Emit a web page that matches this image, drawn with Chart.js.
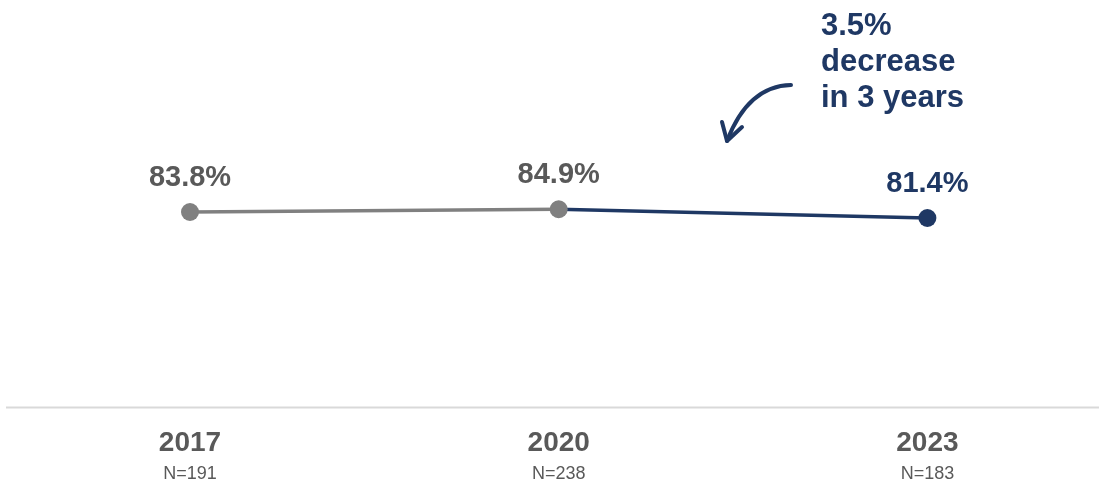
<!DOCTYPE html>
<html>
<head>
  <title>Decrease over 3 years</title>
  <script src="https://cdn.jsdelivr.net/npm/chart.js"></script>
  <style>
    body { margin: 0; background: #fff; }
    #wrap { width: 1099px; height: 485px; position: relative; }
  </style>
</head>
<body>
  <div id="wrap"><canvas id="myChart"></canvas></div>
  <script>
    // data
    var years = ['2017', '2020', '2023'];
    var sampleSizes = ['N=191', 'N=238', 'N=183'];
    var rates = [83.8, 84.9, 81.4];
    var noteLines = ['3.5%', 'decrease', 'in 3 years'];

    var GRAY = '#808080';
    var NAVY = '#1f3864';
    var TEXT = '#595959';
    var FONT = '"Liberation Sans", Arial, sans-serif';

    var points = rates.map(function(v, i) { return { x: i, y: v }; });
    var pointColors = rates.map(function(v, i) { return i === rates.length - 1 ? NAVY : GRAY; });

    // baseline + year labels under the chart area
    var axisPlugin = {
      id: 'axisLabels',
      beforeDatasetsDraw: function(chart) {
        var c = chart.ctx, a = chart.chartArea;
        c.save();
        c.strokeStyle = '#d9d9d9';
        c.lineWidth = 2;
        c.beginPath();
        c.moveTo(6, a.bottom + 1);
        c.lineTo(chart.width, a.bottom + 1);
        c.stroke();
        c.restore();
      },
      afterDraw: function(chart) {
        var c = chart.ctx, a = chart.chartArea, xs = chart.scales.x;
        c.save();
        c.textAlign = 'center';
        c.textBaseline = 'alphabetic';
        c.fillStyle = TEXT;
        years.forEach(function(yr, i) {
          var px = xs.getPixelForValue(i);
          c.font = 'bold 28px ' + FONT;
          c.fillText(yr, px, a.bottom + 44);
          c.font = '18px ' + FONT;
          c.fillText(sampleSizes[i], px, a.bottom + 72);
        });
        c.restore();
      }
    };

    // value labels above points
    var valuePlugin = {
      id: 'valueLabels',
      afterDatasetsDraw: function(chart) {
        var c = chart.ctx;
        var meta = chart.getDatasetMeta(0);
        c.save();
        c.textAlign = 'center';
        c.textBaseline = 'alphabetic';
        c.font = 'bold 29px ' + FONT;
        meta.data.forEach(function(pt, i) {
          c.fillStyle = i === rates.length - 1 ? NAVY : TEXT;
          c.fillText(rates[i].toFixed(1) + '%', pt.x, pt.y - 26.5);
        });
        c.restore();
      }
    };

    // callout text and curved arrow
    var notePlugin = {
      id: 'note',
      afterDraw: function(chart) {
        var c = chart.ctx;
        c.save();
        c.fillStyle = NAVY;
        c.font = 'bold 31px ' + FONT;
        c.textAlign = 'left';
        c.textBaseline = 'alphabetic';
        noteLines.forEach(function(t, i) {
          c.fillText(t, 821, 34.5 + i * 36);
        });
        c.strokeStyle = NAVY;
        c.lineWidth = 4;
        c.lineCap = 'round';
        c.lineJoin = 'round';
        c.beginPath();
        c.moveTo(791, 85);
        c.quadraticCurveTo(748, 86, 727, 141);
        c.stroke();
        c.beginPath();
        c.moveTo(722, 122);
        c.lineTo(727, 141);
        c.lineTo(742, 127);
        c.stroke();
        c.restore();
      }
    };

    var ctx = document.getElementById('myChart').getContext('2d');
    var myChart = new Chart(ctx, {
      type: 'line',
      data: {
        datasets: [{
          data: points,
          borderColor: GRAY,
          borderWidth: 3.5,
          tension: 0,
          pointRadius: 9,
          pointHoverRadius: 9,
          pointBorderWidth: 0,
          pointBackgroundColor: pointColors,
          pointBorderColor: pointColors,
          segment: {
            borderColor: function(s) { return s.p1DataIndex === rates.length - 1 ? NAVY : GRAY; }
          }
        }]
      },
      options: {
        responsive: true,
        maintainAspectRatio: false,
        animation: false,
        events: [],
        layout: { autoPadding: false, padding: { top: 171.5, bottom: 78.5, left: 5.65, right: 2 } },
        scales: {
          x: { type: 'linear', display: false, min: -0.5, max: 2.46 },
          y: { display: false, min: 6, max: 100 }
        },
        plugins: {
          legend: { display: false },
          tooltip: { enabled: false }
        }
      },
      plugins: [axisPlugin, valuePlugin, notePlugin]
    });
  </script>
</body>
</html>
